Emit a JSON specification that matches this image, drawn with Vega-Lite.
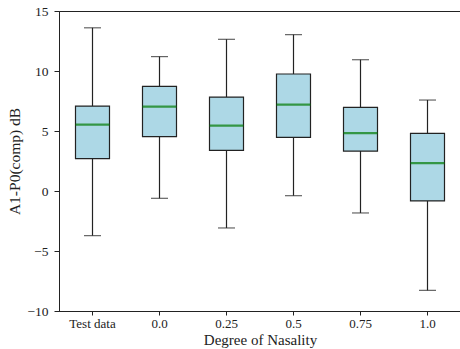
{
  "$schema": "https://vega.github.io/schema/vega-lite/v6.json",
  "autosize": {"type": "none"},
  "padding": {"left": 59, "top": 11, "right": 0, "bottom": 38},
  "width": 402,
  "height": 300,
  "config": {
    "view": {"stroke": "#222", "strokeWidth": 1},
    "font": "Liberation Serif",
    "axis": {
      "labelFont": "Liberation Serif",
      "titleFont": "Liberation Serif",
      "labelFontSize": 13,
      "titleFontSize": 15,
      "titleFontWeight": "normal",
      "labelColor": "#222",
      "titleColor": "#222",
      "tickColor": "#222",
      "domainColor": "#222",
      "tickSize": 4,
      "grid": false
    }
  },
  "data": {
    "values": [
      {"group": "Test data", "lower": -3.72, "q1": 2.69, "median": 5.53, "q3": 7.08, "upper": 13.6},
      {"group": "0.0", "lower": -0.61, "q1": 4.53, "median": 7.03, "q3": 8.72, "upper": 11.2},
      {"group": "0.25", "lower": -3.08, "q1": 3.39, "median": 5.44, "q3": 7.83, "upper": 12.64},
      {"group": "0.5", "lower": -0.39, "q1": 4.47, "median": 7.19, "q3": 9.75, "upper": 13.03},
      {"group": "0.75", "lower": -1.83, "q1": 3.33, "median": 4.83, "q3": 6.97, "upper": 10.94},
      {"group": "1.0", "lower": -8.28, "q1": -0.83, "median": 2.33, "q3": 4.81, "upper": 7.58}
    ]
  },
  "encoding": {
    "x": {
      "field": "group",
      "type": "nominal",
      "sort": null,
      "scale": {"paddingInner": 0, "paddingOuter": 0},
      "axis": {"title": "Degree of Nasality", "labelAngle": 0, "labelPadding": 2, "titlePadding": 2}
    }
  },
  "layer": [
    {
      "mark": {"type": "rule", "color": "#222", "strokeWidth": 1.2},
      "encoding": {
        "y": {
          "field": "lower",
          "type": "quantitative",
          "scale": {"domain": [-10, 15], "nice": false},
          "axis": {"title": "A1-P0(comp) dB", "values": [-10, -5, 0, 5, 10, 15], "tickSize": 5, "labelPadding": 6, "titlePadding": 4, "labelFontSize": 13.5, "titleFontSize": 15.5}
        },
        "y2": {"field": "upper"}
      }
    },
    {
      "mark": {"type": "bar", "size": 34, "fill": "#add8e6", "stroke": "#222", "strokeWidth": 1.2},
      "encoding": {
        "y": {"field": "q1", "type": "quantitative"},
        "y2": {"field": "q3"}
      }
    },
    {
      "mark": {"type": "tick", "size": 34, "thickness": 2.2, "color": "#007a00"},
      "encoding": {"y": {"field": "median", "type": "quantitative"}}
    },
    {
      "mark": {"type": "tick", "size": 17, "thickness": 1.2, "color": "#222"},
      "encoding": {"y": {"field": "upper", "type": "quantitative"}}
    },
    {
      "mark": {"type": "tick", "size": 17, "thickness": 1.2, "color": "#222"},
      "encoding": {"y": {"field": "lower", "type": "quantitative"}}
    }
  ]
}
